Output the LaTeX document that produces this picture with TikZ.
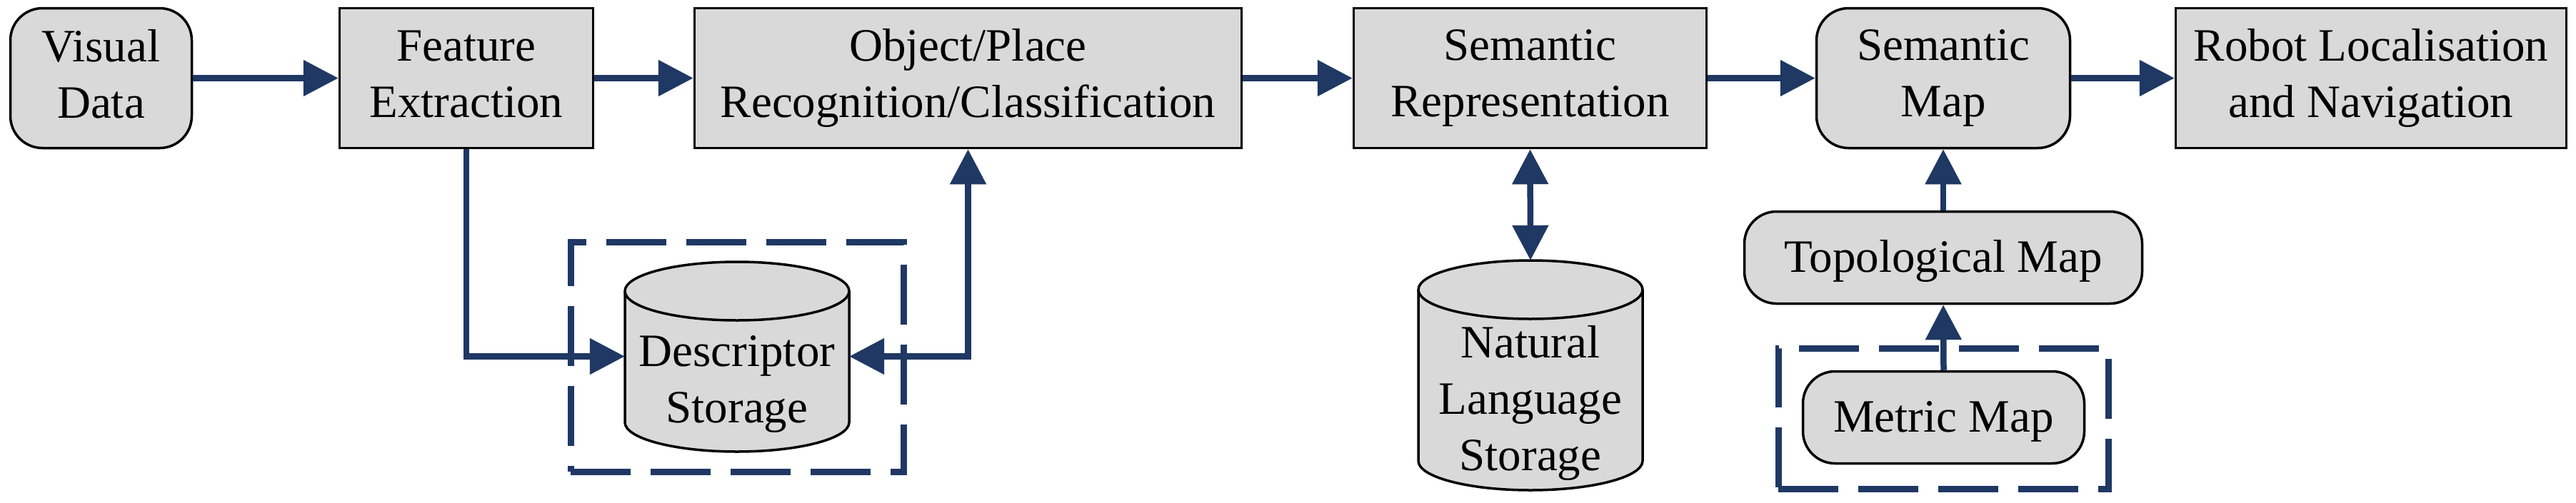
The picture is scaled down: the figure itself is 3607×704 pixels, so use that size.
\documentclass[tikz,border=0pt]{standalone}
\usepackage{fontspec}
\setmainfont{Liberation Serif}
\usetikzlibrary{arrows.meta}
\definecolor{navy}{HTML}{1F3864}
\definecolor{boxgray}{HTML}{D9D9D9}
\newcommand{\svstrut}{\rule[-12pt]{0pt}{67pt}}
\begin{document}
\begin{tikzpicture}[x=1pt,y=1pt,
  every node/.style={font=\fontsize{65}{79}\selectfont, align=center, inner sep=0pt},
  lbl/.style={execute at begin node=\svstrut, execute at end node=\svstrut},
  procbox/.style={draw=black, fill=boxgray, line width=3.5pt},
  sqbox/.style={procbox, rectangle, lbl},
  rndbox/.style={procbox, rectangle, rounded corners=45pt, lbl},
  flow/.style={draw=navy, line width=8.5pt, -{Triangle[length=49pt,width=49pt]}},
  flowtwo/.style={draw=navy, line width=8.5pt, {Triangle[length=49pt,width=49pt]}-{Triangle[length=49pt,width=49pt]}},
  groupbox/.style={draw=navy, line width=9pt, dash pattern=on 84pt off 28pt, rectangle},
]
\useasboundingbox (0,0) rectangle (3607,-704);

% dashed groups
\node[groupbox, minimum width=466pt, minimum height=322pt] (descgrp) at (1032,-500) {};
\node[groupbox, minimum width=462pt, minimum height=197pt] (metricgrp) at (2721,-586.5) {};

% top row
\node[rndbox, minimum width=254pt, minimum height=196pt] (vis) at (141.5,-109.5) {Visual\\Data};
\node[sqbox, minimum width=355pt, minimum height=196pt] (fe) at (653,-109.5) {Feature\\Extraction};
\node[sqbox, minimum width=766pt, minimum height=196pt] (obj) at (1355.5,-109.5) {Object/Place\\Recognition/Classification};
\node[sqbox, minimum width=494pt, minimum height=196pt] (semrep) at (2142.5,-109.5) {Semantic\\Representation};
\node[rndbox, minimum width=355pt, minimum height=196pt] (semmap) at (2721,-109.5) {Semantic\\Map};
\node[sqbox, minimum width=547pt, minimum height=196pt] (robot) at (3320,-109.5) {Robot Localisation\\and Navigation};

% map column
\node[rndbox, minimum width=557pt, minimum height=129pt] (topo) at (2721,-361) {Topological Map};
\node[rndbox, minimum width=394pt, minimum height=129pt] (metric) at (2721.5,-585) {Metric Map};

% descriptor storage cylinder
\node[minimum width=314pt, minimum height=267pt] (desc) at (1032,-499.5) {};
\path[procbox] (875,-408) -- (875,-592) arc[start angle=180, end angle=360, x radius=157, y radius=41]
  -- (1189,-408) arc[start angle=0, end angle=180, x radius=157, y radius=41] -- cycle;
\draw[line width=3.5pt] (875,-408) arc[start angle=180, end angle=360, x radius=157, y radius=41];
\node[lbl] (desclbl) at (1032,-538.5) {Descriptor\\Storage};

% natural language storage cylinder
\node[minimum width=314pt, minimum height=322pt] (nl) at (2143,-526) {};
\path[procbox] (1986,-406) -- (1986,-646) arc[start angle=180, end angle=360, x radius=157, y radius=41]
  -- (2300,-406) arc[start angle=0, end angle=180, x radius=157, y radius=41] -- cycle;
\draw[line width=3.5pt] (1986,-406) arc[start angle=180, end angle=360, x radius=157, y radius=41];
\node[lbl] (nllbl) at (2143,-564.5) {Natural\\Language\\Storage};

% connectors
\draw[flow] (vis.east) -- (fe.west);
\draw[flow] (fe.east) -- (obj.west);
\draw[flow] (obj.east) -- (semrep.west);
\draw[flow] (semrep.east) -- (semmap.west);
\draw[flow] (semmap.east) -- (robot.west);
\draw[flow] (fe.south) |- (desc.west);
\draw[flowtwo] (desc.east) -| (obj.south);
\draw[flowtwo] (semrep.south) -- (nl.north);
\draw[flow] (topo.north) -- (semmap.south);
\draw[flow] (metric.north) -- (topo.south);
\end{tikzpicture}
\end{document}
